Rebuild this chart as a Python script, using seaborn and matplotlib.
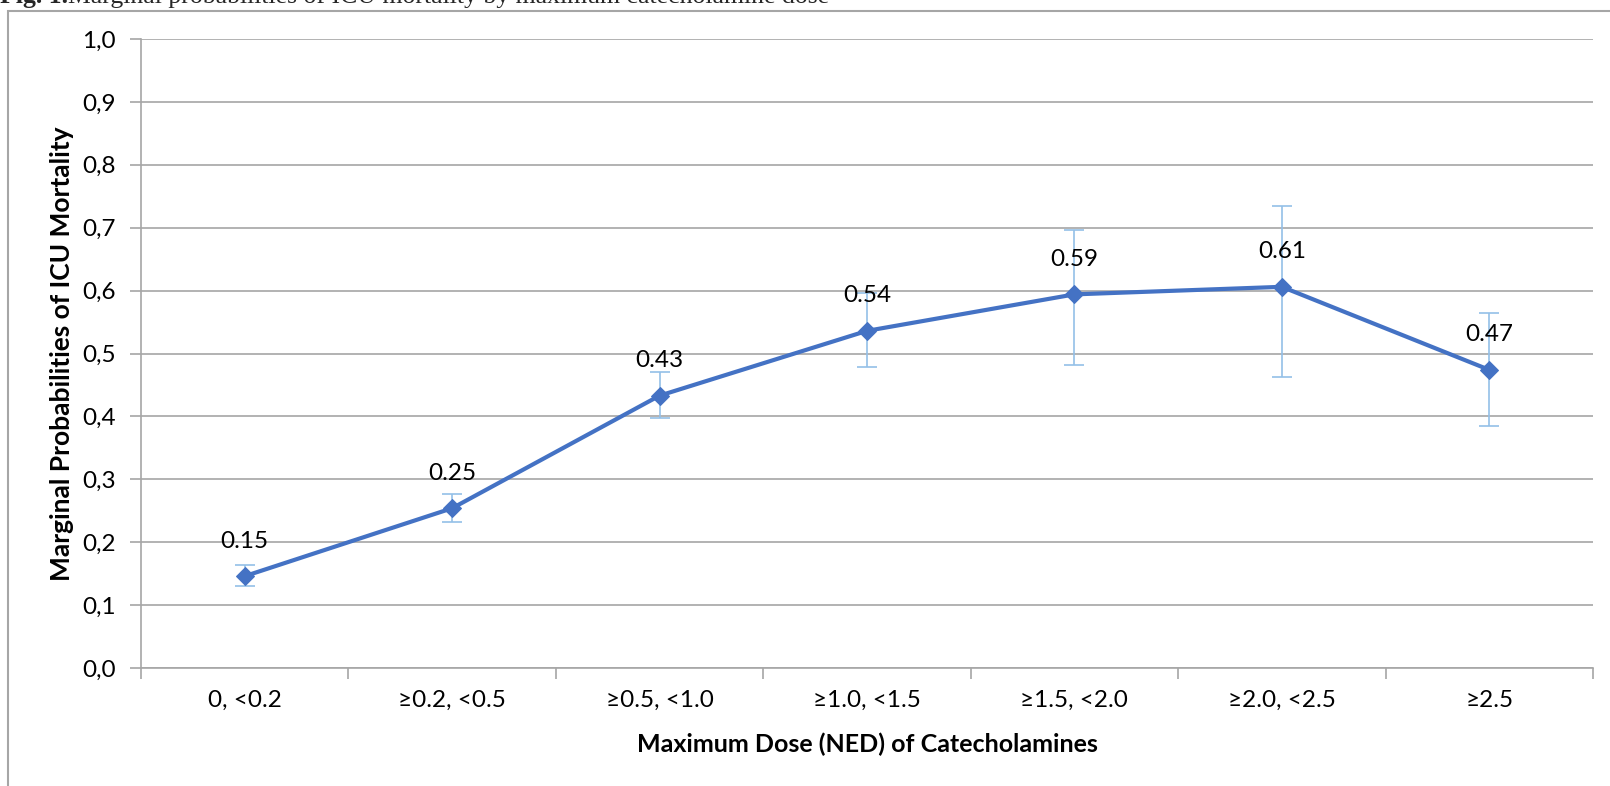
import matplotlib
matplotlib.use("Agg")
import matplotlib.pyplot as plt
import seaborn as sns
import pandas as pd
from matplotlib.patches import Rectangle
from matplotlib.ticker import FixedLocator, FixedFormatter

categories = ["0, <0.2", "≥0.2, <0.5", "≥0.5, <1.0", "≥1.0, <1.5", "≥1.5, <2.0", "≥2.0, <2.5", "≥2.5"]
probabilities = [0.146, 0.254, 0.433, 0.536, 0.594, 0.606, 0.474]
ci_low = [0.130, 0.232, 0.398, 0.479, 0.482, 0.463, 0.385]
ci_high = [0.163, 0.276, 0.470, 0.596, 0.697, 0.734, 0.565]
point_labels = ["0.15", "0.25", "0.43", "0.54", "0.59", "0.61", "0.47"]
y_ticks = [0.0, 0.1, 0.2, 0.3, 0.4, 0.5, 0.6, 0.7, 0.8, 0.9, 1.0]
y_tick_labels = ["0,0", "0,1", "0,2", "0,3", "0,4", "0,5", "0,6", "0,7", "0,8", "0,9", "1,0"]

sns.set_theme(style="white")
plt.rcParams['font.family'] = ['Lato', 'DejaVu Sans']

W, H = 1610, 786
fig = plt.figure(figsize=(W / 100, H / 100), dpi=100)
ax = fig.add_axes([141 / W, 1 - 668 / H, (1593 - 141) / W, (668 - 39) / H])

df = pd.DataFrame({"category": categories, "prob": probabilities})
pos = list(range(len(categories)))

lower = [p - l for p, l in zip(probabilities, ci_low)]
upper = [h - p for p, h in zip(probabilities, ci_high)]
ax.errorbar(pos, probabilities, yerr=[lower, upper], fmt="none", ecolor="#93C0E8",
            elinewidth=1.2, capsize=7, capthick=1.2, zorder=2)

sns.lineplot(data=df, x="category", y="prob", ax=ax, color="#4472C4", linewidth=3,
             marker="D", markersize=9, markeredgecolor="#4472C4", sort=False, zorder=3)

for x, y, t in zip(pos, probabilities, point_labels):
    ax.annotate(t, (x, y), xytext=(0, 35), textcoords="offset pixels", ha="center",
                va="center", fontsize=17.5, color="#000000")

ax.set_xlim(-0.5, len(categories) - 0.5)
ax.set_ylim(0, 1.0)
ax.yaxis.set_major_locator(FixedLocator(y_ticks))
ax.yaxis.set_major_formatter(FixedFormatter(y_tick_labels))
ax.set_xticks(pos)
ax.set_xticklabels(categories)
ax.set_xticks([p - 0.5 for p in range(len(categories) + 1)], minor=True)

ax.grid(axis="y", color="#A6A6A6", linewidth=1.2)
ax.grid(axis="x", visible=False)
ax.set_axisbelow(True)
for side in ["top", "right"]:
    ax.spines[side].set_visible(False)
for side in ["left", "bottom"]:
    ax.spines[side].set_color("#A6A6A6")
    ax.spines[side].set_linewidth(1.2)

ax.tick_params(axis="y", which="major", left=True, length=8, width=1.2, color="#A6A6A6",
               labelsize=17.5, pad=10, labelcolor="#000000")
ax.tick_params(axis="x", which="major", bottom=False, length=0, labelsize=17.5, pad=16,
               labelcolor="#000000")
ax.tick_params(axis="x", which="minor", bottom=True, length=8, width=1.2, color="#A6A6A6")

ax.set_xlabel("Maximum Dose (NED) of Catecholamines", fontsize=18, fontweight="bold",
              labelpad=15, color="#000000")
ax.set_ylabel("Marginal Probabilities of ICU Mortality", fontsize=19, fontweight="bold",
              labelpad=6, color="#000000")

# chart area border (extends beyond the cropped image)
fig.patches.append(Rectangle((7.5 / W, -0.1), 1.2, (1 - 10.5 / H) + 0.1, transform=fig.transFigure,
                             fill=False, edgecolor="#A6A6A6", linewidth=1.5, zorder=0))

# partially visible caption at the very top
fig.text(0, 1 - 2.5 / H, "Fig. 1.", fontsize=18.5, fontweight="bold", family="Liberation Serif",
         ha="left", va="baseline")
fig.text(68 / W, 1 - 2.5 / H, "Marginal probabilities of ICU mortality by maximum catecholamine dose",
         fontsize=18.5, family="Liberation Serif", ha="left", va="baseline")

fig.savefig("out.png", dpi=100)
